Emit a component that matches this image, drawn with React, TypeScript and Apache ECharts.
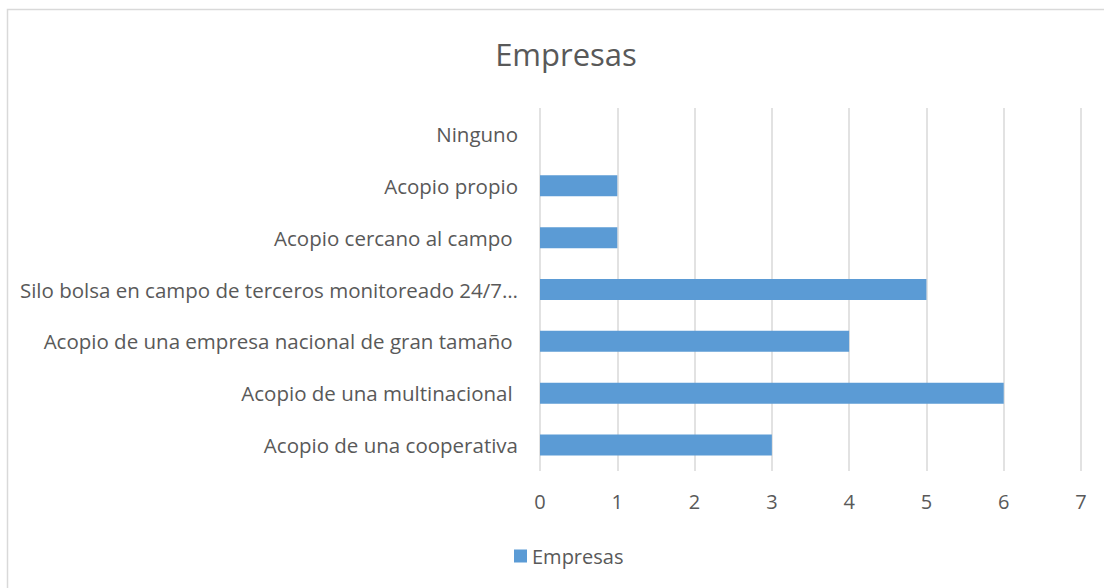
import React, { useEffect, useRef } from "react";
import * as echarts from "echarts";

const categories = [
  "Acopio de una cooperativa",
  "Acopio de una multinacional ",
  "Acopio de una empresa nacional de gran tamaño ",
  "Silo bolsa en campo de terceros monitoreado 24/7…",
  "Acopio cercano al campo ",
  "Acopio propio",
  "Ninguno",
];
const values = [3, 6, 4, 5, 1, 1, 0];
const seriesName = "Empresas";
const titleText = "Empresas";

const FONT = "'Open Sans', sans-serif";
const GREY = "#595959";

export default function App() {
  const ref = useRef<HTMLDivElement>(null);
  useEffect(() => {
    document.body.style.margin = "0";
    const chart = echarts.init(ref.current!, undefined, { renderer: "svg" });
    chart.setOption({
      animation: false,
      backgroundColor: "#ffffff",
      title: {
        text: titleText,
        left: 561,
        textAlign: "center",
        top: 33,
        textStyle: { fontFamily: FONT, fontSize: 31, fontWeight: "normal", color: GREY },
      },
      graphic: [
        {
          type: "rect",
          shape: { x: 7.5, y: 9.5, width: 1200, height: 700 },
          style: { fill: "none", stroke: "#d9d9d9", lineWidth: 1.5 },
          silent: true,
        },
      ],
      legend: {
        data: [seriesName],
        left: 509,
        top: 541,
        itemWidth: 13,
        itemHeight: 13,
        itemGap: 6,
        icon: "rect",
        textStyle: { fontFamily: FONT, fontSize: 20, color: GREY },
      },
      grid: { left: 540, right: 23, top: 108, bottom: 117, containLabel: false },
      xAxis: {
        type: "value",
        min: 0,
        max: 7,
        interval: 1,
        axisLine: { show: false },
        axisTick: { show: false },
        splitLine: { lineStyle: { color: "#d9d9d9", width: 1.5 } },
        axisLabel: { fontFamily: FONT, fontSize: 20, color: GREY, margin: 20 },
      },
      yAxis: {
        type: "category",
        data: categories,
        axisLine: { show: false },
        axisTick: { show: false },
        axisLabel: { fontFamily: FONT, fontSize: 20.5, color: GREY, margin: 22 },
      },
      series: [
        {
          name: seriesName,
          type: "bar",
          data: values,
          barWidth: 21,
          itemStyle: { color: "#5b9bd5" },
        },
      ],
    });
    return () => chart.dispose();
  }, []);
  return <div ref={ref} style={{ width: 1104, height: 588 }} />;
}
